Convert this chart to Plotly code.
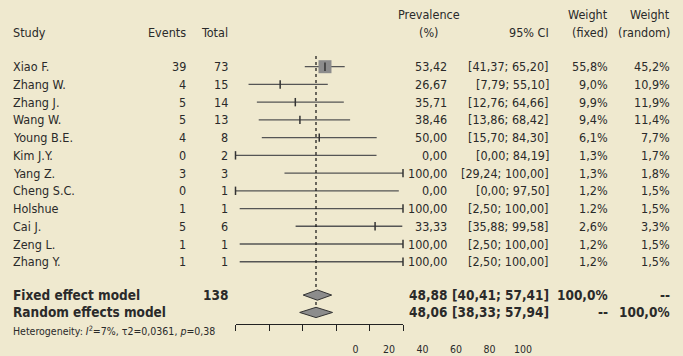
import plotly.graph_objects as go

# ---------------- data ----------------
studies = ["Xiao F.", "Zhang W.", "Zhang J.", "Wang W.", "Young B.E.", "Kim J.Y.",
           "Yang Z.", "Cheng S.C.", "Holshue", "Cai J.", "Zeng L.", "Zhang Y."]
events = [39, 4, 5, 5, 4, 0, 3, 0, 1, 5, 1, 1]
totals = [73, 15, 14, 13, 8, 2, 3, 1, 1, 6, 1, 1]
prev_plot = [53.42, 26.67, 35.71, 38.46, 50.00, 0.00, 100.00, 0.00, 100.00, 83.33, 100.00, 100.00]
prev_text = ["53,42", "26,67", "35,71", "38,46", "50,00", "0,00", "100,00", "0,00",
             "100,00", "33,33", "100,00", "100,00"]
ci_low = [41.37, 7.79, 12.76, 13.86, 15.70, 0.00, 29.24, 0.00, 2.50, 35.88, 2.50, 2.50]
ci_high = [65.20, 55.10, 64.66, 68.42, 84.30, 84.19, 100.00, 97.50, 100.00, 99.58, 100.00, 100.00]
ci_text = ["[41,37; 65,20]", "[7,79; 55,10]", "[12,76; 64,66]", "[13,86; 68,42]",
           "[15,70; 84,30]", "[0,00; 84,19]", "[29,24; 100,00]", "[0,00; 97,50]",
           "[2,50; 100,00]", "[35,88; 99,58]", "[2,50; 100,00]", "[2,50; 100,00]"]
w_fixed = ["55,8%", "9,0%", "9,9%", "9,4%", "6,1%", "1,3%", "1,3%", "1,2%", "1.2%", "2,6%", "1,2%", "1,2%"]
w_random = ["45,2%", "10,9%", "11,9%", "11,4%", "7,7%", "1,7%", "1,8%", "1,5%", "1,5%", "3,3%", "1,5%", "1,5%"]

models = ["Fixed effect model", "Random effects model"]
model_total = ["138", ""]
model_est = [48.88, 48.06]
model_est_text = ["48,88", "48,06"]
model_low = [40.41, 38.33]
model_high = [57.41, 57.94]
model_ci_text = ["[40,41; 57,41]", "[38,33; 57,94]"]
model_wf = ["100,0%", "--"]
model_wr = ["--", "100,0%"]

tick_vals = [0, 20, 40, 60, 80, 100]
tick_text = ["0", "20", "40", "60", "80", "100"]
hetero = "Heterogeneity: <i>I</i><sup>2</sup>=7%, τ2=0,0361, <i>p</i>=0,38"

# ---------------- layout helpers ----------------
W, H = 683, 356
BG = "#EFE9CF"
TXT = "#2a2a2a"
FONT = "DejaVu Sans Condensed, Liberation Sans Narrow, Roboto, sans-serif"
FS = 12.5
FSB = 13.5
rows = list(range(len(studies)))
model_rows = [12.88, 13.86]
HET_ROW = 14.89
HEAD1, HEAD2 = -2.92, -1.94


def px(x):
    return x / W


fig = go.Figure()

# CI lines
xs, ys = [], []
for i in rows:
    xs += [ci_low[i], ci_high[i], None]
    ys += [i, i, None]
fig.add_trace(go.Scatter(x=xs, y=ys, mode="lines", line=dict(color="#555555", width=1.3),
                         hoverinfo="skip", showlegend=False, cliponaxis=False))

# weight square (largest study)
fig.add_trace(go.Scatter(x=[prev_plot[0]], y=[rows[0]], mode="markers",
                         marker=dict(symbol="square", size=13, color="#8C8C8C"),
                         hoverinfo="skip", showlegend=False))
# point estimates
fig.add_trace(go.Scatter(x=prev_plot, y=rows, mode="markers", cliponaxis=False,
                         marker=dict(symbol="line-ns", size=6, line=dict(color="#333333", width=1.5)),
                         hoverinfo="skip", showlegend=False))

# dotted reference line at random effect estimate
fig.add_trace(go.Scatter(x=[model_est[1], model_est[1]], y=[-0.6, 13.9], mode="lines",
                         line=dict(color="#111111", width=1.2, dash="dot"),
                         hoverinfo="skip", showlegend=False))

# diamonds
for k in range(2):
    yc = model_rows[k]
    h = 0.29
    fig.add_trace(go.Scatter(
        x=[model_low[k], model_est[k], model_high[k], model_est[k], model_low[k]],
        y=[yc, yc - h, yc, yc + h, yc],
        mode="lines", fill="toself", fillcolor="#8C8C8C",
        line=dict(color="#333333", width=1), hoverinfo="skip", showlegend=False))

ann = []


def add(text, x, y, anchor, size=FS, bold=False):
    ann.append(dict(text=f"<b>{text}</b>" if bold else text, x=px(x), y=y, xref="paper", yref="y",
                    xanchor=anchor, yanchor="middle", showarrow=False,
                    font=dict(family=FONT, size=size, color=TXT)))


# headers
add("Study", 11, HEAD2, "left")
add("Events", 188, HEAD2, "right")
add("Total", 230, HEAD2, "right")
add("Prevalence", 428.5, HEAD1, "center")
add("(%)", 428.5, HEAD2, "center")
add("95% CI", 551, HEAD2, "right")
add("Weight", 610, HEAD1, "right")
add("(fixed)", 610, HEAD2, "right")
add("Weight", 672, HEAD1, "right")
add("(random)", 672, HEAD2, "right")

for i in rows:
    add(studies[i], 11, i, "left")
    add(str(events[i]), 188, i, "right")
    add(str(totals[i]), 230, i, "right")
    add(prev_text[i], 448.7, i, "right")
    add(ci_text[i], 551.3, i, "right")
    add(w_fixed[i], 610.3, i, "right")
    add(w_random[i], 672, i, "right")

for k in range(2):
    y = model_rows[k]
    add(models[k], 11, y, "left", FSB, True)
    if model_total[k]:
        add(model_total[k], 230, y, "right", FSB, True)
    add(model_est_text[k], 448.7, y, "right", FSB, True)
    add(model_ci_text[k], 551.3, y, "right", FSB, True)
    add(model_wf[k], 610.3, y, "right", FSB, True)
    add(model_wr[k], 672, y, "right", FSB, True)

add(hetero, 11, HET_ROW, "left", 10.5)

fig.update_layout(
    template="none",
    width=W, height=H, margin=dict(l=0, r=0, t=0, b=0, pad=0, autoexpand=False),
    paper_bgcolor=BG, plot_bgcolor="rgba(0,0,0,0)",
    annotations=ann, showlegend=False,
    xaxis=dict(domain=[235.5 / W, 403 / W], range=[0, 100], anchor="free", automargin=False,
               position=1 - 324.3 / H, showline=True, linecolor="#222222", linewidth=1.3,
               ticks="outside", ticklen=6, tickwidth=1.3, tickcolor="#222222",
               tickvals=tick_vals, ticktext=tick_text, showticklabels=True,
               ticklabelshift=120, ticklabelstandoff=9,
               tickfont=dict(family=FONT, size=10.5, color=TXT),
               showgrid=False, zeroline=False),
    yaxis=dict(domain=[0, 1], range=[16.317, -3.762], visible=False, automargin=False,
               showgrid=False, zeroline=False),
)

fig.write_html("out.html")
